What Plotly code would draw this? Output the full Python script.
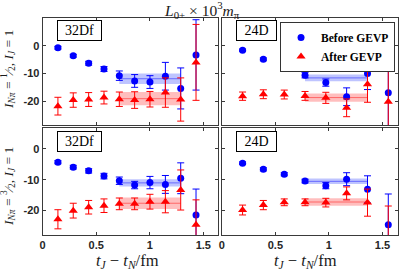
import plotly.graph_objects as go

# ---------------- data ----------------
t_32Df = [0.143, 0.286, 0.430, 0.573, 0.716, 0.859, 1.002, 1.146, 1.289, 1.432]
t_24D = [0.194, 0.388, 0.583, 0.777, 0.971, 1.165, 1.360, 1.554]

# I_Npi = 1/2, 32Df
b_half_32 = [-0.7, -3.6, -6.3, -8.4, -10.8, -12.7, -13.1, -11.0, -15.4, -3.3]
b_half_32_err = [0.5, 0.5, 0.7, 0.9, 1.7, 2.3, 2.3, 5.0, 7.4, 12.7]
a_half_32 = [-21.8, -19.6, -19.4, -18.7, -19.3, -19.6, -19.3, -16.9, -19.4, -6.0]
a_half_32_err = [3.2, 2.6, 2.5, 2.3, 2.6, 3.0, 2.8, 5.3, 7.8, 13.7]

# I_Npi = 1/2, 24D
b_half_24 = [-1.6, -4.9, -8.0, -10.6, -13.3, -18.4, -10.0, -17.0]
b_half_24_err = [0.4, 0.5, 0.6, 1.0, 1.3, 3.2, 5.8, 13.3]
a_half_24 = [-18.2, -17.5, -17.6, -18.1, -18.8, -22.4, -13.9, -20.2]
a_half_24_err = [1.5, 1.6, 1.6, 1.6, 2.0, 3.2, 6.5, 12.9]

# I_Npi = 3/2, 32Df
b_3half_32 = [-4.3, -5.9, -7.1, -8.8, -10.3, -11.7, -10.9, -11.5, -9.5, -21.4]
b_3half_32_err = [0.5, 0.6, 0.7, 0.9, 1.2, 1.2, 2.0, 2.9, 5.0, 8.4]
a_3half_32 = [-22.8, -20.0, -18.9, -18.4, -17.8, -17.8, -17.1, -17.1, -13.3, -24.6]
a_3half_32_err = [3.1, 2.4, 2.2, 2.2, 1.9, 1.9, 2.4, 3.6, 6.5, 8.1]

# I_Npi = 3/2, 24D
b_3half_24 = [-4.6, -6.6, -8.2, -10.4, -11.9, -9.8, -13.1, -24.6]
b_3half_24_err = [0.4, 0.5, 0.5, 0.6, 1.0, 2.1, 4.4, 10.0]
a_3half_24 = [-19.8, -18.2, -17.3, -17.3, -17.4, -14.4, -17.4, -30.0]
a_3half_24_err = [1.6, 1.5, 1.1, 1.1, 1.4, 2.1, 4.4, 11.5]

# fit bands: [t_start, t_end, center, half-width]
band_b_half_32 = [0.716, 1.289, -11.9, 1.9]
band_a_half_32 = [0.716, 1.289, -19.1, 2.4]
band_b_half_24 = [0.777, 1.360, -11.6, 1.2]
band_a_half_24 = [0.777, 1.360, -18.7, 1.5]
band_b_3half_32 = [0.716, 1.289, -11.0, 1.2]
band_a_3half_32 = [0.716, 1.289, -17.6, 1.9]
band_b_3half_24 = [0.777, 1.360, -10.5, 0.9]
band_a_3half_24 = [0.777, 1.360, -17.2, 1.2]

x_ticks = [0, 0.5, 1, 1.5]
x_tick_text = ["0", "0.5", "1", "1.5"]
y_ticks = [-20, -10, 0]
y_tick_text = ["-20", "-10", "0"]

ensemble_labels = ["32Df", "24D"]
series_names = ["Before GEVP", "After GEVP"]

# ---------------- figure ----------------
W, H = 399, 271
BLUE = "#0000ff"
RED = "#ff0000"
AX = "#3a3a3a"
SERIF = "Liberation Serif"
TICKFONT = dict(family="Liberation Sans", size=11, color="#262626", weight="bold")

def px_x(p):
    return p / W

def px_y(p):
    return 1 - p / H

col_dom = [[px_x(40), px_x(217.5)], [px_x(221), px_x(398.5)]]
row_dom = [[px_y(125), px_y(17.5)], [px_y(235), px_y(128)]]
y_ranges = [[-28.6, 10.2], [-27.9, 6.8]]
x_range = [0, 1.64]

panels = [
    # (row, col, t, before, before_err, after, after_err, band_b, band_a)
    (0, 0, t_32Df, b_half_32, b_half_32_err, a_half_32, a_half_32_err, band_b_half_32, band_a_half_32),
    (0, 1, t_24D, b_half_24, b_half_24_err, a_half_24, a_half_24_err, band_b_half_24, band_a_half_24),
    (1, 0, t_32Df, b_3half_32, b_3half_32_err, a_3half_32, a_3half_32_err, band_b_3half_32, band_a_3half_32),
    (1, 1, t_24D, b_3half_24, b_3half_24_err, a_3half_24, a_3half_24_err, band_b_3half_24, band_a_3half_24),
]

fig = go.Figure()
shapes = []
annotations = []
layout_axes = {}

for i, (r, c, t, b, be, a, ae, bb, ba) in enumerate(panels):
    n = i + 1
    xa = "x" if n == 1 else f"x{n}"
    ya = "y" if n == 1 else f"y{n}"
    xkey = "xaxis" if n == 1 else f"xaxis{n}"
    ykey = "yaxis" if n == 1 else f"yaxis{n}"

    layout_axes[xkey] = dict(
        domain=col_dom[c], range=x_range, anchor=ya,
        showline=True, mirror="ticks", linecolor=AX, linewidth=1,
        ticks="inside", ticklen=3, tickcolor=AX,
        tickvals=x_ticks, ticktext=x_tick_text,
        showticklabels=(r == 1), showgrid=False, zeroline=False,
        tickfont=TICKFONT,
    )
    layout_axes[ykey] = dict(
        domain=row_dom[r], range=y_ranges[r], anchor=xa,
        showline=True, mirror="ticks", linecolor=AX, linewidth=1,
        ticks="inside", ticklen=3, tickcolor=AX,
        tickvals=y_ticks, ticktext=y_tick_text,
        showticklabels=(c == 0), showgrid=False, zeroline=False,
        tickfont=TICKFONT, ticklabelstandoff=0,
    )

    # bands
    for band, col, fill in ((bb, BLUE, "rgba(40,60,255,0.30)"), (ba, RED, "rgba(255,40,40,0.30)")):
        shapes.append(dict(type="rect", xref=xa, yref=ya, x0=band[0], x1=band[1],
                           y0=band[2] - band[3], y1=band[2] + band[3],
                           fillcolor=fill, line=dict(width=0), layer="below"))
        shapes.append(dict(type="line", xref=xa, yref=ya, x0=band[0], x1=band[1],
                           y0=band[2], y1=band[2],
                           line=dict(color=col, width=1), opacity=0.45, layer="below"))

    fig.add_trace(go.Scatter(
        x=t, y=b, mode="markers", name=series_names[0], xaxis=xa, yaxis=ya,
        marker=dict(symbol="circle", size=7, color=BLUE),
        error_y=dict(type="data", array=be, color=BLUE, thickness=1, width=3.5),
        showlegend=(n == 1), legendgroup="b",
    ))
    fig.add_trace(go.Scatter(
        x=t, y=a, mode="markers", name=series_names[1], xaxis=xa, yaxis=ya,
        marker=dict(symbol="triangle-up", size=8, color=RED),
        error_y=dict(type="data", array=ae, color=RED, thickness=1, width=3.5),
        showlegend=(n == 1), legendgroup="a",
    ))

    # ensemble label boxes
    box_x = [77.5, 256.5][c]
    box_y = [30.5, 141.5][r]
    annotations.append(dict(
        text=ensemble_labels[c], xref="paper", yref="paper",
        x=px_x(box_x), y=px_y(box_y), xanchor="center", yanchor="middle",
        showarrow=False, font=dict(family=SERIF, size=14, color="black"),
        bordercolor="black", borderwidth=1, borderpad=1, bgcolor="white",
        width=[41, 37][c], height=17,
    ))

# titles
annotations.append(dict(
    text="<i>L</i><sub>0+</sub> × 10<sup>3</sup><i>m</i><sub>π</sub>",
    xref="paper", yref="paper", x=px_x(201), y=px_y(10),
    xanchor="center", yanchor="middle", showarrow=False,
    font=dict(family=SERIF, size=15.5, color="#1a1a1a"),
))
for cx in (126, 306):
    annotations.append(dict(
        text="<i>t<sub>J</sub></i> − <i>t<sub>N</sub></i>/fm",
        xref="paper", yref="paper", x=px_x(cx), y=px_y(261),
        xanchor="center", yanchor="middle", showarrow=False,
        font=dict(family=SERIF, size=16.5, color="#1a1a1a"),
    ))
y_titles = [
    "<i>I</i><sub><i>Nπ</i></sub> = <sup>1</sup>⁄<sub>2</sub>, <i>I<sub>J</sub></i> = 1",
    "<i>I</i><sub><i>Nπ</i></sub> = <sup>3</sup>⁄<sub>2</sub>, <i>I<sub>J</sub></i> = 1",
]
for yt, cy in zip(y_titles, (69, 186)):
    annotations.append(dict(
        text=yt, xref="paper", yref="paper", x=px_x(8), y=px_y(cy),
        xanchor="center", yanchor="middle", textangle=-90, showarrow=False,
        xshift=-3, borderpad=0,
        font=dict(family=SERIF, size=13.5, color="#1a1a1a"),
    ))

fig.update_layout(
    width=W, height=H, margin=dict(l=0, r=0, t=0, b=0),
    plot_bgcolor="white", paper_bgcolor="white",
    shapes=shapes, annotations=annotations,
    legend=dict(
        x=px_x(396), y=px_y(22), xanchor="right", yanchor="top",
        bgcolor="white", bordercolor="#333333", borderwidth=1,
        font=dict(family=SERIF, size=11.5, color="black", weight="bold"),
        itemwidth=30, tracegroupgap=0,
    ),
    **layout_axes,
)

fig.write_html(
    "out.html",
    config={"displayModeBar": False},
    post_script="document.body.style.margin='0';document.body.style.overflow='hidden';",
)
